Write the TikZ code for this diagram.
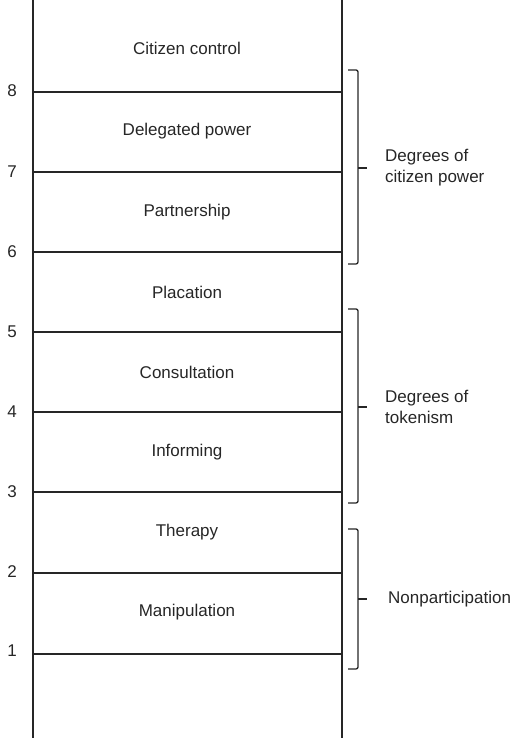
\documentclass[tikz,border=0pt]{standalone}
\usepackage{fontspec}
\setmainfont{Liberation Sans}
\usepackage{tikz}

\tikzset{
  rung/.style={draw=black!85, line width=1.3pt},
  rail/.style={draw=black!85, line width=1.8pt},
  brack/.style={draw=black!85, line width=1.3pt, rounded corners=2pt},
  lab/.style={text=black!85, font=\fontsize{17}{21}\selectfont, inner sep=0pt},
}

\begin{document}
\begin{tikzpicture}[x=1pt, y=1pt]
\useasboundingbox (0,0) rectangle (511,738);
\begin{scope}
% ladder rails
\draw[rail] (33,0) -- (33,738);
\draw[rail] (342,0) -- (342,738);

% rungs and their numbers
\node[lab] (n8) at (12,647) {8};
\draw[rung] (33,646) -- (342,646);
\node[lab] (n7) at (12,566) {7};
\draw[rung] (33,566) -- (342,566);
\node[lab] (n6) at (12,486) {6};
\draw[rung] (33,486) -- (342,486);
\node[lab] (n5) at (12,406) {5};
\draw[rung] (33,406) -- (342,406);
\node[lab] (n4) at (12,326) {4};
\draw[rung] (33,326) -- (342,326);
\node[lab] (n3) at (12,246) {3};
\draw[rung] (33,246) -- (342,246);
\node[lab] (n2) at (12,166) {2};
\draw[rung] (33,165) -- (342,165);
\node[lab] (n1) at (12,87) {1};
\draw[rung] (33,84) -- (342,84);

% steps
\node[lab] (control) at (187,690) {Citizen control};
\node[lab] (delegated) at (187,607) {Delegated power};
\node[lab] (partner) at (187,526) {Partnership};
\node[lab] (placation) at (187,446) {Placation};
\node[lab] (consult) at (187,366) {Consultation};
\node[lab] (inform) at (187,286) {Informing};
\node[lab] (therapy) at (187,206) {Therapy};
\node[lab] (manip) at (187,126) {Manipulation};

% brackets
\draw[brack] (348,668) -- (358,668) -- (358,474) -- (348,474);
\coordinate (b1) at (358,570);
\draw[brack] (b1) -- ++(9,0);
\node[lab, anchor=west, align=left] (power) at (385,570) {Degrees of\\citizen power};

\draw[brack] (348,429) -- (358,429) -- (358,235) -- (348,235);
\coordinate (b2) at (358,331);
\draw[brack] (b2) -- ++(9,0);
\node[lab, anchor=west, align=left] (token) at (385,331) {Degrees of\\tokenism};

\draw[brack] (348,209) -- (358,209) -- (358,69) -- (348,69);
\coordinate (b3) at (358,139);
\draw[brack] (b3) -- ++(9,0);
\node[lab, anchor=west] (nonpart) at (388,139) {Nonparticipation};
\end{scope}
\end{tikzpicture}
\end{document}
